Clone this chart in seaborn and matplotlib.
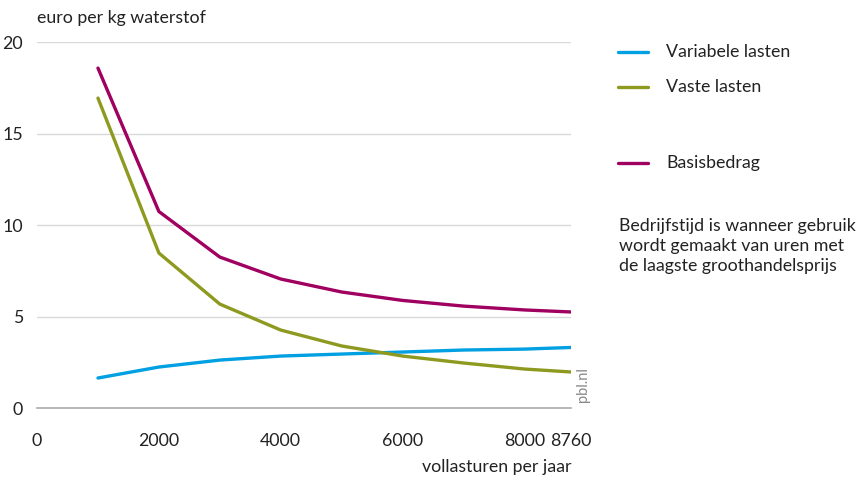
import numpy as np
import pandas as pd
import seaborn as sns
import matplotlib.pyplot as plt
from matplotlib.lines import Line2D

# vollasturen per jaar
hours = [1000, 2000, 3000, 4000, 5000, 6000, 7000, 8000, 8760]

# euro per kg waterstof
variabel = [1.64, 2.24, 2.62, 2.84, 2.95, 3.06, 3.17, 3.22, 3.31]
vast = [16.94, 8.47, 5.68, 4.26, 3.39, 2.84, 2.46, 2.13, 1.97]
basis = [18.58, 10.74, 8.25, 7.05, 6.34, 5.88, 5.57, 5.36, 5.25]

series = ['Variabele lasten', 'Vaste lasten', 'Basisbedrag']
colors = ['#00a0e2', '#8e9a1f', '#a0005f']

df = pd.DataFrame({
    'uren': hours * 3,
    'waarde': variabel + vast + basis,
    'reeks': [s for s in series for _ in hours],
})

sns.set_style('white')
plt.rcParams['font.family'] = ['Lato', 'DejaVu Sans']
txt = '#222222'
fs = 12.8

fig = plt.figure(figsize=(8.61, 4.84), dpi=100)
ax = fig.add_axes([0.043, 0.157, 0.620, 0.756])

sns.lineplot(data=df, x='uren', y='waarde', hue='reeks', palette=colors,
             hue_order=series, linewidth=2.4, legend=False, ax=ax)

ax.set_xlim(0, 8760)
ax.set_ylim(0, 20)
ax.set_yticks([0, 5, 10, 15, 20])
for y in [5, 10, 15, 20]:
    ax.axhline(y, color='#d9d9d9', lw=1, zorder=0)

ax.set_xticks([0, 2000, 4000, 6000, 8000, 8760])
ax.set_xticks([1000, 3000, 5000, 7000], minor=True)
ax.tick_params(axis='x', which='major', length=10, color='#aaaaaa', width=1,
               labelsize=fs, labelcolor=txt, pad=8)
ax.tick_params(axis='x', which='minor', length=5, color='#aaaaaa', width=1)
ax.tick_params(axis='y', length=0, labelsize=fs, labelcolor=txt, pad=10)

for s in ['top', 'right', 'left']:
    ax.spines[s].set_visible(False)
ax.spines['bottom'].set_color('#aaaaaa')
ax.spines['bottom'].set_linewidth(1.2)

ax.set_xlabel('')
ax.set_ylabel('')
fig.text(571 / 861, 1 - 467 / 484, 'vollasturen per jaar', ha='right', va='center',
         fontsize=fs, color=txt)
fig.text(37 / 861, 1 - 18 / 484, 'euro per kg waterstof', ha='left', va='center',
         fontsize=fs, color=txt)
fig.text(583 / 861, 1 - 385 / 484, 'pbl.nl', rotation=90, ha='center', va='center',
         fontsize=10.5, color='#888888')

# legend
leg_y = [52, 87, 163]
for name, c, yp in zip(series, colors, leg_y):
    yy = 1 - yp / 484
    fig.add_artist(Line2D([618 / 861, 648 / 861], [yy, yy], color=c, lw=2.4,
                          transform=fig.transFigure))
    fig.text(666 / 861, yy, name, ha='left', va='center', fontsize=fs, color=txt)

fig.text(619 / 861, 1 - 246 / 484,
         'Bedrijfstijd is wanneer gebruik\nwordt gemaakt van uren met\nde laagste groothandelsprijs',
         ha='left', va='center', fontsize=fs, color=txt, linespacing=1.3)

fig.savefig('out.png', dpi=100)
